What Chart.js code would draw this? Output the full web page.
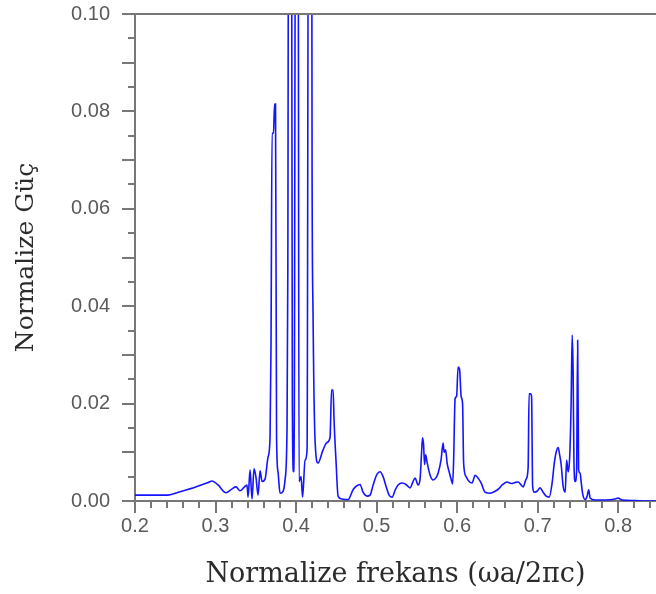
<!DOCTYPE html>
<html lang="tr">
<head>
    <meta charset="UTF-8">
    <title>Normalize Güç</title>
    <script src="https://cdn.jsdelivr.net/npm/chart.js"></script>
    <style>
        body {
            margin: 0;
            background-color: #fff;
        }
        .wrap {
            width: 656px;
            height: 594px;
        }
    </style>
</head>
<body>
    <div class="wrap">
        <canvas id="spectrum" width="656" height="594"></canvas>
    </div>
    <script>
        // values
        const freq = [
            0.2000, 0.2186, 0.2410, 0.2559, 0.2745, 0.2907, 0.2957, 0.3031, 0.3130, 0.3205,
            0.3255, 0.3304, 0.3366, 0.3391, 0.3404, 0.3429, 0.3453, 0.3478, 0.3503, 0.3528,
            0.3553, 0.3578, 0.3615, 0.3652, 0.3677, 0.3689, 0.3702, 0.3720, 0.3733, 0.3745,
            0.3758, 0.3776, 0.3801, 0.3839, 0.3863, 0.3888, 0.3898, 0.3907, 0.3944, 0.3954,
            0.3969, 0.3979, 0.3994, 0.4025, 0.4037, 0.4062, 0.4081, 0.4112, 0.4137, 0.4155,
            0.4193, 0.4199, 0.4211, 0.4236, 0.4273, 0.4335, 0.4385, 0.4422, 0.4441, 0.4460,
            0.4472, 0.4497, 0.4522, 0.4571, 0.4646, 0.4708, 0.4745, 0.4795, 0.4832, 0.4882,
            0.4919, 0.4957, 0.5006, 0.5043, 0.5081, 0.5118, 0.5155, 0.5193, 0.5230, 0.5267,
            0.5317, 0.5366, 0.5416, 0.5453, 0.5478, 0.5516, 0.5540, 0.5559, 0.5571, 0.5584,
            0.5596, 0.5609, 0.5627, 0.5646, 0.5665, 0.5702, 0.5739, 0.5764, 0.5801, 0.5826,
            0.5839, 0.5857, 0.5876, 0.5901, 0.5925, 0.5944, 0.5957, 0.5975, 0.5994, 0.6012,
            0.6031, 0.6050, 0.6068, 0.6081, 0.6112, 0.6149, 0.6186, 0.6224, 0.6261, 0.6298,
            0.6348, 0.6410, 0.6472, 0.6522, 0.6559, 0.6621, 0.6671, 0.6720, 0.6758, 0.6795,
            0.6820, 0.6857, 0.6882, 0.6894, 0.6913, 0.6925, 0.6938, 0.6957, 0.6994, 0.7031,
            0.7068, 0.7106, 0.7143, 0.7180, 0.7205, 0.7230, 0.7255, 0.7273, 0.7292, 0.7317,
            0.7342, 0.7360, 0.7379, 0.7398, 0.7416, 0.7429, 0.7441, 0.7451, 0.7466, 0.7484,
            0.7497, 0.7509, 0.7528, 0.7540, 0.7559, 0.7590, 0.7615, 0.7634, 0.7652, 0.7714,
            0.7839, 0.7963, 0.8000, 0.8050, 0.8211, 0.8335, 0.8472
        ];
        const power = [
            0.0012, 0.0012, 0.0012, 0.0019, 0.0028, 0.0038, 0.0041, 0.0033, 0.0017, 0.0025,
            0.0029, 0.0021, 0.0030, 0.0033, 0.0008, 0.0064, 0.0004, 0.0066, 0.0048, 0.0012,
            0.0062, 0.0040, 0.0045, 0.0090, 0.0130, 0.0320, 0.0755, 0.0755, 0.0815, 0.0815,
            0.0130, 0.0060, 0.0016, 0.0020, 0.0043, 0.0150, 0.0480, 0.1300, 0.1300, 0.0200,
            0.0060, 0.0210, 0.1400, 0.1400, 0.0040, 0.0050, 0.0008, 0.0084, 0.0105, 0.1400,
            0.1400, 0.0686, 0.0386, 0.0125, 0.0078, 0.0105, 0.0120, 0.0130, 0.0228, 0.0228,
            0.0166, 0.0080, 0.0010, 0.0004, 0.0003, 0.0023, 0.0030, 0.0034, 0.0018, 0.0010,
            0.0012, 0.0033, 0.0055, 0.0060, 0.0050, 0.0030, 0.0012, 0.0008, 0.0022, 0.0033,
            0.0037, 0.0034, 0.0027, 0.0040, 0.0047, 0.0033, 0.0045, 0.0100, 0.0130, 0.0115,
            0.0075, 0.0095, 0.0080, 0.0065, 0.0053, 0.0043, 0.0048, 0.0057, 0.0085, 0.0119,
            0.0100, 0.0105, 0.0078, 0.0060, 0.0045, 0.0035, 0.0084, 0.0210, 0.0215, 0.0275,
            0.0270, 0.0215, 0.0200, 0.0078, 0.0050, 0.0040, 0.0037, 0.0053, 0.0047, 0.0037,
            0.0018, 0.0016, 0.0020, 0.0026, 0.0033, 0.0039, 0.0036, 0.0038, 0.0039, 0.0033,
            0.0029, 0.0045, 0.0068, 0.0220, 0.0220, 0.0214, 0.0030, 0.0018, 0.0020, 0.0027,
            0.0018, 0.0010, 0.0008, 0.0037, 0.0075, 0.0100, 0.0110, 0.0095, 0.0075, 0.0030,
            0.0018, 0.0084, 0.0060, 0.0090, 0.0200, 0.0341, 0.0263, 0.0080, 0.0040, 0.0060,
            0.0330, 0.0065, 0.0057, 0.0040, 0.0015, 0.0003, 0.0010, 0.0023, 0.0006, 0.0002,
            0.0002, 0.0004, 0.0006, 0.0002, 0.0001, 0.0000, 0.0000
        ];
        const xTickLabels = ['0.2', '0.3', '0.4', '0.5', '0.6', '0.7', '0.8'];
        const yTickLabels = ['0.00', '0.02', '0.04', '0.06', '0.08', '0.10'];

        const axisGray = '#777';
        const labelGray = '#5a5a5a';

        // major + minor tick marks, and the top frame line
        const tickMarks = {
            id: 'tickMarks',
            afterDraw(chart) {
                const { ctx, chartArea: area, scales: { x, y } } = chart;
                ctx.save();
                ctx.strokeStyle = axisGray;
                ctx.lineWidth = 2;
                ctx.beginPath();
                ctx.moveTo(area.left, area.top);
                ctx.lineTo(area.right, area.top);
                for (let k = 0; k <= 20; k++) {
                    const py = Math.round(y.getPixelForValue(k / 200));
                    const len = k % 2 === 0 ? 13 : 7;
                    ctx.moveTo(area.left - len, py);
                    ctx.lineTo(area.left, py);
                }
                for (let k = 10; k <= 42; k++) {
                    const px = Math.round(x.getPixelForValue(k / 50));
                    const len = k % 5 === 0 ? 12 : 7;
                    ctx.moveTo(px, area.bottom);
                    ctx.lineTo(px, area.bottom + len);
                }
                ctx.stroke();
                ctx.restore();
            }
        };

        const ctx = document.getElementById('spectrum').getContext('2d');
        new Chart(ctx, {
            type: 'line',
            data: {
                datasets: [{
                    data: freq.map((f, i) => ({ x: f, y: power[i] })),
                    borderColor: 'rgb(20, 20, 255)',
                    borderWidth: 1.6,
                    pointRadius: 0,
                    cubicInterpolationMode: 'monotone',
                    fill: false
                }]
            },
            options: {
                responsive: false,
                animation: false,
                layout: { padding: { top: 14, right: 0, left: 0, bottom: 0 } },
                plugins: {
                    legend: { display: false },
                    tooltip: { enabled: false }
                },
                scales: {
                    x: {
                        type: 'linear',
                        min: 0.2,
                        max: 0.847,
                        afterFit: (s) => { s.height = 93; },
                        border: { display: true, color: axisGray, width: 2 },
                        grid: { drawOnChartArea: false, tickLength: 12, tickColor: 'transparent' },
                        ticks: {
                            stepSize: 0.1,
                            includeBounds: false,
                            maxRotation: 0,
                            padding: 1,
                            color: labelGray,
                            font: { family: 'Liberation Sans', size: 20 },
                            callback: (v) => {
                                const i = Math.round(v * 10) - 2;
                                return xTickLabels[i] ?? '';
                            }
                        },
                        title: {
                            display: true,
                            text: 'Normalize frekans (ωa/2πc)',
                            color: '#2b2b2b',
                            font: { family: 'DejaVu Serif', size: 27 },
                            padding: { top: 0, bottom: 3 }
                        }
                    },
                    y: {
                        min: 0,
                        max: 0.1,
                        afterFit: (s) => { s.width = 135; },
                        border: { display: true, color: axisGray, width: 2 },
                        grid: { drawOnChartArea: false, tickLength: 24, tickColor: 'transparent' },
                        ticks: {
                            stepSize: 0.02,
                            padding: 1,
                            color: labelGray,
                            font: { family: 'Liberation Sans', size: 20 },
                            callback: (v) => {
                                const i = Math.round(v * 50);
                                return yTickLabels[i] ?? '';
                            }
                        },
                        title: {
                            display: true,
                            text: 'Normalize Güç',
                            color: '#2b2b2b',
                            font: { family: 'DejaVu Serif', size: 25 },
                            padding: { top: 11, bottom: 0 }
                        }
                    }
                }
            },
            plugins: [tickMarks]
        });
    </script>
</body>
</html>
